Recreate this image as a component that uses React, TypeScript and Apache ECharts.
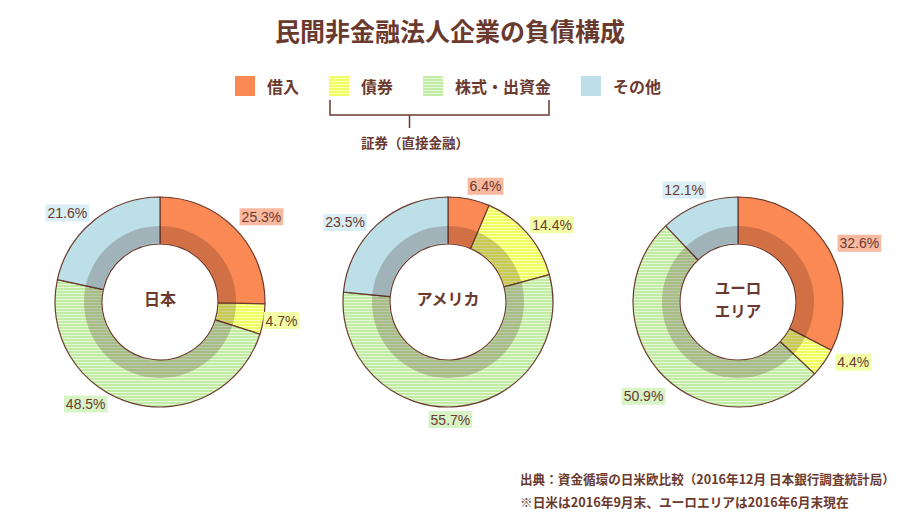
import React, { useEffect, useRef } from 'react';
import * as echarts from 'echarts';

const categories = ['借入', '債券', '株式・出資金', 'その他'];
const regionNames = ['日本', 'アメリカ', 'ユーロ\nエリア'];
const japanValues = [25.3, 4.7, 48.5, 21.6];
const usaValues = [6.4, 14.4, 55.7, 23.5];
const euroValues = [32.6, 4.4, 50.9, 12.1];
const titleText = '民間非金融法人企業の負債構成';
const bracketText = '証券（直接金融）';
const sourceText = '出典：資金循環の日米欧比較（2016年12月 日本銀行調査統計局）';
const noteText = '※日米は2016年9月末、ユーロエリアは2016年6月末現在';

const BROWN = '#6b3a2e';
const FONT = '"Noto Sans CJK JP", "Noto Sans", sans-serif';
const LABEL_FONT = '"Liberation Sans", "Noto Sans", sans-serif';

// small label nudges (layout only) per chart, per slice: [dx, dy]
const labelNudges = [
  [[-4, -6], [-11, 0], [-20, -7], [3, -1]],
  [[-6, -5], [-6, -3], [-32, 5], [-2, 4]],
  [[0, 0], [2, -5], [10, 14], [13, -7]],
];

function stripe(a: string, b: string) {
  const c = document.createElement('canvas');
  c.width = 4;
  c.height = 3;
  const ctx = c.getContext('2d')!;
  ctx.fillStyle = a;
  ctx.fillRect(0, 0, 4, 3);
  ctx.fillStyle = b;
  ctx.fillRect(0, 2, 4, 1);
  return { image: c, repeat: 'repeat' };
}

export default function App() {
  const ref = useRef<HTMLDivElement>(null);
  useEffect(() => {
    if (!ref.current) return;
    const chart = echarts.init(ref.current, undefined, { renderer: 'svg' });
    const colors: any[] = [
      '#fb8954',
      stripe('#effe5e', '#fbffbc'),
      stripe('#c2eca4', '#e6f8da'),
      '#bcdfe8',
    ];
    const labelBgs = ['#f9b9a0', '#f3ffa6', '#d8f3c8', '#d9eef5'];
    const allValues = [japanValues, usaValues, euroValues];
    const centersX = [160, 448, 738];
    const cy = 302;

    const series: any[] = [];
    allValues.forEach((vals, i) => {
      series.push({
        type: 'pie',
        name: regionNames[i],
        center: [centersX[i], cy],
        radius: [58, 105],
        startAngle: 90,
        clockwise: true,
        avoidLabelOverlap: false,
        emphasis: { disabled: true },
        itemStyle: { borderColor: BROWN, borderWidth: 1.2 },
        label: {
          show: true,
          position: 'outside',
          formatter: '{c}%',
          color: BROWN,
          fontSize: 14,
          fontFamily: LABEL_FONT,
          padding: [2, 2, 1, 2],
          distanceToLabelLine: 3,
        },
        labelLine: { show: false, length: 8, length2: 0 },
        labelLayout: (p: any) => {
          const n = labelNudges[i][p.dataIndex];
          return { dx: n[0], dy: n[1] };
        },
        data: vals.map((v, j) => ({
          name: categories[j],
          value: v,
          itemStyle: { color: colors[j] },
          label: { backgroundColor: labelBgs[j] },
        })),
        z: 2,
      });
      series.push({
        type: 'pie',
        name: 'shadow' + i,
        center: [centersX[i], cy],
        radius: [59, 76],
        silent: true,
        legendHoverLink: false,
        emphasis: { disabled: true },
        itemStyle: { color: 'rgba(50,20,10,0.21)', borderWidth: 0 },
        label: { show: false },
        labelLine: { show: false },
        data: [{ value: 1, name: '_shadow' }],
        z: 3,
      });
    });

    const centerTexts: any[] = [];
    regionNames.forEach((n, i) => {
      const lines = n.split('\n');
      lines.forEach((ln, k) => {
        centerTexts.push({
          type: 'text',
          x: centersX[i],
          y: 298 + (k - (lines.length - 1) / 2) * 23,
          style: {
            text: ln,
            fill: BROWN,
            font: `bold ${lines.length > 1 ? 15.5 : 16}px ${FONT}`,
            textAlign: 'center',
            textVerticalAlign: 'middle',
          },
          z: 10,
        });
      });
    });

    const graphic: any[] = [
      {
        type: 'polyline',
        shape: { points: [[330, 100], [330, 115], [549, 115], [549, 100]] },
        style: { stroke: BROWN, lineWidth: 1.5, fill: 'none' },
      },
      {
        type: 'line',
        shape: { x1: 409.5, y1: 115, x2: 409.5, y2: 128 },
        style: { stroke: BROWN, lineWidth: 1.5 },
      },
      {
        type: 'text',
        x: 415,
        y: 142,
        style: {
          text: bracketText,
          fill: BROWN,
          font: `bold 13.5px ${FONT}`,
          textAlign: 'center',
          textVerticalAlign: 'middle',
        },
      },
      ...centerTexts,
      {
        type: 'text',
        x: 520,
        y: 478,
        style: {
          text: sourceText,
          fill: BROWN,
          font: `bold 12.6px ${FONT}`,
          textVerticalAlign: 'middle',
        },
      },
      {
        type: 'text',
        x: 520,
        y: 501,
        style: {
          text: noteText,
          fill: BROWN,
          font: `bold 12.7px ${FONT}`,
          textVerticalAlign: 'middle',
        },
      },
    ];

    chart.setOption({
      animation: false,
      backgroundColor: '#ffffff',
      title: {
        text: titleText,
        left: 'center',
        top: 12,
        textStyle: { fontSize: 25, fontWeight: 'bold', color: BROWN, fontFamily: FONT },
      },
      legend: {
        data: categories,
        left: 235,
        top: 76,
        padding: 0,
        icon: 'rect',
        itemWidth: 20,
        itemHeight: 20,
        itemGap: 30,
        selectedMode: false,
        itemStyle: { borderWidth: 0 },
        textStyle: {
          fontSize: 16,
          fontWeight: 'bold',
          color: BROWN,
          fontFamily: FONT,
          padding: [0, 0, 0, 7],
        },
      },
      series,
      graphic,
    });
    return () => chart.dispose();
  }, []);
  return (
    <div
      ref={ref}
      style={{ position: 'fixed', left: 0, top: 0, width: 900, height: 520, background: '#fff' }}
    />
  );
}
